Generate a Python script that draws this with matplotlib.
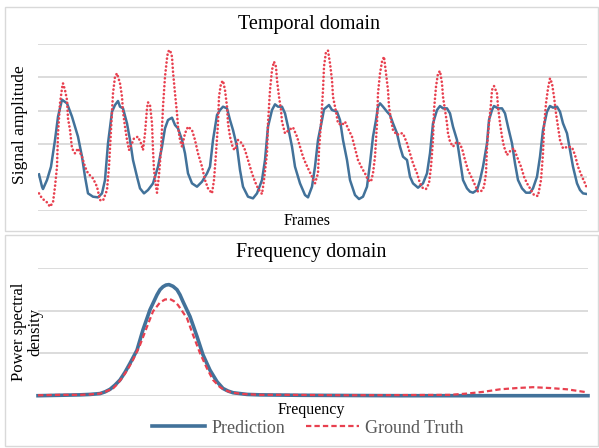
import matplotlib
matplotlib.use("Agg")
import matplotlib.pyplot as plt
from matplotlib.patches import Rectangle

plt.rcParams['font.family'] = ['Liberation Serif', 'DejaVu Serif']

# ---- temporal domain (frame index, amplitude) ----
pred_frames = [1, 4, 5, 9, 13, 17, 20, 24, 29, 34, 37, 40, 44, 47, 50, 55, 60, 64, 67, 70,
               74, 77, 80, 82, 85, 89, 92, 95, 99, 102, 106, 110, 115, 120, 124, 127, 130, 134, 137, 140,
               144, 147, 150, 154, 159, 164, 169, 172, 175, 179, 182, 185, 189, 192, 195, 199, 202, 205, 210, 215,
               219, 224, 227, 230, 234, 237, 240, 244, 247, 250, 254, 257, 262, 267, 270, 274, 277, 280, 284, 286,
               289, 291, 294, 299, 302, 305, 309, 312, 317, 321, 325, 329, 332, 335, 338, 340, 342, 345, 349, 352,
               355, 359, 362, 365, 369, 372, 375, 380, 385, 389, 392, 395, 399, 402, 405, 409, 412, 415, 419, 422,
               425, 429, 432, 435, 439, 442, 445, 449, 451, 454, 456, 460, 464, 467, 470, 474, 477, 480, 484, 488,
               492, 495, 499, 502, 505, 509, 512, 515, 519, 522, 525, 529, 532, 535, 539, 542, 545, 549]
pred_amplitude = [1.09, 0.72, 0.65, 0.92, 1.32, 2.12, 2.82, 3.33, 3.22, 2.82, 2.52, 2.22, 1.62, 1.02, 0.52, 0.42, 0.40, 0.52, 0.92, 2.02,
                  2.97, 3.17, 3.29, 3.12, 3.07, 2.62, 2.12, 1.52, 1.02, 0.67, 0.52, 0.62, 0.82, 1.32, 1.92, 2.47, 2.72, 2.79, 2.57, 2.47,
                  2.12, 1.72, 1.12, 0.82, 0.72, 0.87, 1.12, 1.32, 2.12, 2.87, 3.02, 3.12, 3.07, 2.72, 2.42, 1.92, 1.22, 0.72, 0.42, 0.37,
                  0.52, 0.92, 1.52, 2.52, 3.02, 3.19, 3.12, 3.12, 2.92, 2.52, 1.92, 1.32, 0.82, 0.47, 0.40, 0.72, 1.32, 2.12, 2.72, 3.04,
                  3.12, 3.17, 3.02, 2.97, 2.72, 2.12, 1.52, 0.92, 0.47, 0.35, 0.42, 0.72, 1.42, 2.22, 2.72, 3.12, 3.22, 3.12, 2.97, 2.87,
                  2.62, 2.32, 1.92, 1.62, 1.52, 1.02, 0.82, 0.69, 0.82, 1.12, 1.72, 2.62, 3.02, 3.14, 3.07, 3.07, 2.92, 2.52, 2.12, 1.52,
                  0.92, 0.67, 0.57, 0.54, 0.62, 0.92, 1.32, 2.02, 2.72, 3.02, 3.14, 3.07, 3.07, 2.92, 2.52, 2.02, 1.42, 0.92, 0.67, 0.54,
                  0.54, 0.67, 1.02, 1.62, 2.42, 2.97, 3.14, 3.09, 3.12, 2.97, 2.62, 2.32, 1.82, 1.32, 0.82, 0.62, 0.52, 0.50]

gt_frames = [1, 4, 9, 12, 15, 17, 19, 20, 22, 24, 25, 27, 29, 30, 32, 34, 37, 40, 44, 47,
             50, 55, 59, 62, 65, 69, 71, 73, 75, 77, 79, 82, 84, 85, 87, 89, 91, 94, 96, 100,
             103, 105, 107, 109, 110, 112, 114, 115, 116, 118, 119, 121, 123, 125, 127, 129, 130, 132, 134, 135,
             137, 139, 140, 142, 144, 147, 150, 154, 157, 160, 164, 167, 170, 174, 176, 178, 180, 181, 183, 185,
             187, 189, 190, 192, 195, 197, 200, 204, 207, 210, 214, 217, 220, 224, 226, 229, 230, 232, 234, 236,
             238, 239, 241, 243, 244, 247, 251, 255, 259, 262, 265, 267, 270, 274, 277, 280, 281, 283, 285, 286,
             288, 290, 292, 294, 295, 298, 300, 304, 307, 310, 314, 317, 320, 324, 327, 330, 333, 335, 337, 339,
             340, 342, 344, 346, 348, 350, 351, 353, 355, 359, 362, 365, 369, 372, 375, 379, 382, 385, 388, 391,
             393, 395, 396, 398, 400, 402, 404, 405, 407, 409, 410, 412, 415, 418, 421, 424, 427, 430, 434, 437,
             440, 444, 446, 448, 449, 451, 453, 454, 456, 459, 460, 462, 464, 466, 469, 473, 476, 479, 483, 486,
             489, 493, 496, 500, 503, 505, 506, 508, 510, 512, 514, 516, 518, 520, 522, 525, 530, 534, 537, 540,
             544, 547, 549]
gt_amplitude = [0.52, 0.37, 0.25, 0.12, 0.25, 0.72, 1.32, 2.32, 3.22, 3.67, 3.82, 3.62, 3.32, 2.77, 2.42, 1.87, 1.72, 1.87, 1.62, 1.32,
                1.12, 0.97, 0.72, 0.32, 0.30, 0.62, 1.32, 2.42, 3.52, 4.02, 4.12, 3.82, 3.42, 2.97, 2.52, 2.12, 1.82, 2.02, 2.17, 2.22,
                2.02, 1.82, 2.32, 3.07, 3.25, 3.17, 2.62, 1.82, 1.22, 0.72, 0.54, 1.07, 1.82, 3.12, 4.02, 4.57, 4.77, 4.82, 4.62, 4.17,
                3.52, 2.92, 2.52, 2.12, 1.92, 2.32, 2.52, 2.42, 2.12, 1.72, 1.32, 0.92, 0.67, 0.52, 0.92, 1.72, 2.62, 3.42, 3.82, 3.90,
                3.62, 3.12, 2.62, 2.22, 1.87, 1.82, 2.12, 2.02, 1.82, 1.52, 1.12, 0.87, 0.67, 0.50, 0.92, 1.72, 2.62, 3.62, 4.22, 4.47,
                4.32, 3.92, 3.42, 3.02, 2.67, 2.32, 2.42, 2.50, 2.22, 1.92, 1.62, 1.47, 1.27, 1.02, 0.82, 1.12, 1.82, 2.62, 3.62, 4.32,
                4.77, 4.80, 4.42, 3.92, 3.42, 2.97, 2.62, 2.57, 2.67, 2.47, 2.22, 1.87, 1.52, 1.27, 1.12, 0.92, 0.87, 1.12, 1.62, 2.62,
                3.52, 4.12, 4.47, 4.62, 4.12, 3.62, 3.12, 2.72, 2.42, 2.27, 2.32, 2.32, 2.02, 1.72, 1.42, 1.12, 0.82, 0.67, 0.65, 0.82,
                1.32, 2.12, 3.02, 3.72, 4.12, 4.19, 3.82, 3.42, 3.02, 2.62, 2.32, 2.07, 1.92, 2.04, 2.04, 1.87, 1.52, 1.22, 0.97, 0.77,
                0.57, 0.60, 0.72, 1.12, 1.92, 2.62, 3.22, 3.62, 3.74, 3.52, 3.12, 2.62, 2.22, 1.92, 1.67, 1.82, 1.87, 1.62, 1.32, 1.02,
                0.82, 0.62, 0.47, 0.44, 0.92, 1.72, 2.52, 3.22, 3.67, 3.97, 3.82, 3.42, 2.92, 2.52, 2.12, 1.87, 1.92, 1.90, 1.67, 1.32,
                1.02, 0.82, 0.67]

# ---- frequency domain (frequency bin, power spectral density) ----
pred_bins = [0, 22, 42, 52, 62, 67, 72, 77, 82, 87, 92, 99, 105, 112, 119, 122, 125, 128, 131, 135,
             139, 142, 145, 152, 159, 165, 172, 179, 185, 190, 195, 202, 209, 222, 262, 362, 550]
pred_psd = [0.00, 0.01, 0.02, 0.03, 0.05, 0.09, 0.15, 0.25, 0.37, 0.55, 0.76, 1.07, 1.55, 2.02, 2.37, 2.49, 2.56, 2.60, 2.61, 2.57,
            2.49, 2.37, 2.21, 1.86, 1.39, 0.96, 0.60, 0.33, 0.17, 0.11, 0.07, 0.05, 0.03, 0.02, 0.01, 0.00, 0.00]

gt_bins = [0, 22, 42, 52, 62, 68, 75, 80, 85, 90, 95, 102, 109, 115, 122, 127, 132, 136, 140, 149,
           155, 162, 169, 175, 182, 187, 192, 198, 205, 222, 245, 312, 412, 429, 445, 462, 479, 495, 512, 529,
           549]
gt_psd = [0.01, 0.02, 0.02, 0.03, 0.05, 0.10, 0.17, 0.29, 0.45, 0.63, 0.84, 1.19, 1.62, 1.98, 2.19, 2.26, 2.27, 2.22, 2.13, 1.82,
          1.43, 1.00, 0.64, 0.37, 0.20, 0.13, 0.09, 0.06, 0.04, 0.02, 0.02, 0.01, 0.02, 0.05, 0.09, 0.15, 0.18, 0.20, 0.18, 0.15,
          0.08]

BLUE = '#42729a'
RED = '#e8404f'
GRID = '#d9d9d9'
TEXT = '#000000'
LEGEND_TEXT = '#595959'

W, H = 599, 448
fig = plt.figure(figsize=(W / 100, H / 100), dpi=100)


def fx(px):
    return px / W


def fy(py):
    return 1 - py / H


# chart-area borders
for (x0, y0, x1, y1) in [(5, 7, 598, 231), (5, 235, 598, 446)]:
    fig.patches.append(Rectangle((fx(x0), fy(y1)), fx(x1) - fx(x0), fy(y0) - fy(y1),
                                 transform=fig.transFigure, fill=False,
                                 edgecolor=GRID, linewidth=1.0))


def style(ax, n):
    ax.set_yticks(range(n + 1))
    ax.set_ylim(0, n)
    ax.grid(axis='y', color=GRID, linewidth=1.3)
    ax.set_axisbelow(True)
    for s in ax.spines.values():
        s.set_visible(False)
    ax.tick_params(length=0, labelleft=False, labelbottom=False)
    ax.set_facecolor('none')


# temporal domain panel
ax1 = fig.add_axes([fx(38), fy(210.7), fx(587) - fx(38), fy(44) - fy(210.7)])
style(ax1, 5)
ax1.set_xlim(0, 549)
ax1.plot(pred_frames, pred_amplitude, color=BLUE, linewidth=1.8, solid_joinstyle='round')
ax1.plot(gt_frames, gt_amplitude, color=RED, linewidth=1.9,
         linestyle=(0, (0.05, 1.45)), dash_capstyle='round')

# frequency domain panel
ax2 = fig.add_axes([fx(38), fy(395.7), fx(588) - fx(38), fy(268) - fy(395.7)])
style(ax2, 3)
ax2.set_xlim(0, 550)
l1, = ax2.plot(pred_bins, pred_psd, color=BLUE, linewidth=2.6, label='Prediction',
               solid_joinstyle='round', clip_on=False)
l2, = ax2.plot(gt_bins, gt_psd, color=RED, linewidth=1.6, linestyle=(0, (2.4, 1.4)),
               label='Ground Truth', clip_on=False)

# titles and axis labels
fig.text(fx(309), fy(25), 'Temporal domain', ha='center', va='center', fontsize=14.5, color=TEXT)
fig.text(fx(311), fy(252), 'Frequency domain', ha='center', va='center', fontsize=14.5, color=TEXT)
fig.text(fx(307), fy(221), 'Frames', ha='center', va='center', fontsize=11.5, color=TEXT)
fig.text(fx(311), fy(410), 'Frequency', ha='center', va='center', fontsize=11.5, color=TEXT)
fig.text(fx(20), fy(124.5), 'Signal amplitude', ha='center', va='center', rotation=90,
         fontsize=12.5, color=TEXT)
fig.text(fx(27), fy(332), 'Power spectral\ndensity', ha='center', va='center', rotation=90,
         fontsize=12, color=TEXT, linespacing=1.0, multialignment='center')

fig.legend(handles=[l1, l2], loc='center', bbox_to_anchor=(fx(308), fy(428)),
           ncol=2, frameon=False, fontsize=13, labelcolor=LEGEND_TEXT,
           handlelength=2.9, handletextpad=0.35, columnspacing=1.2, borderaxespad=0)

fig.savefig('out.png', dpi=100, facecolor='white')
